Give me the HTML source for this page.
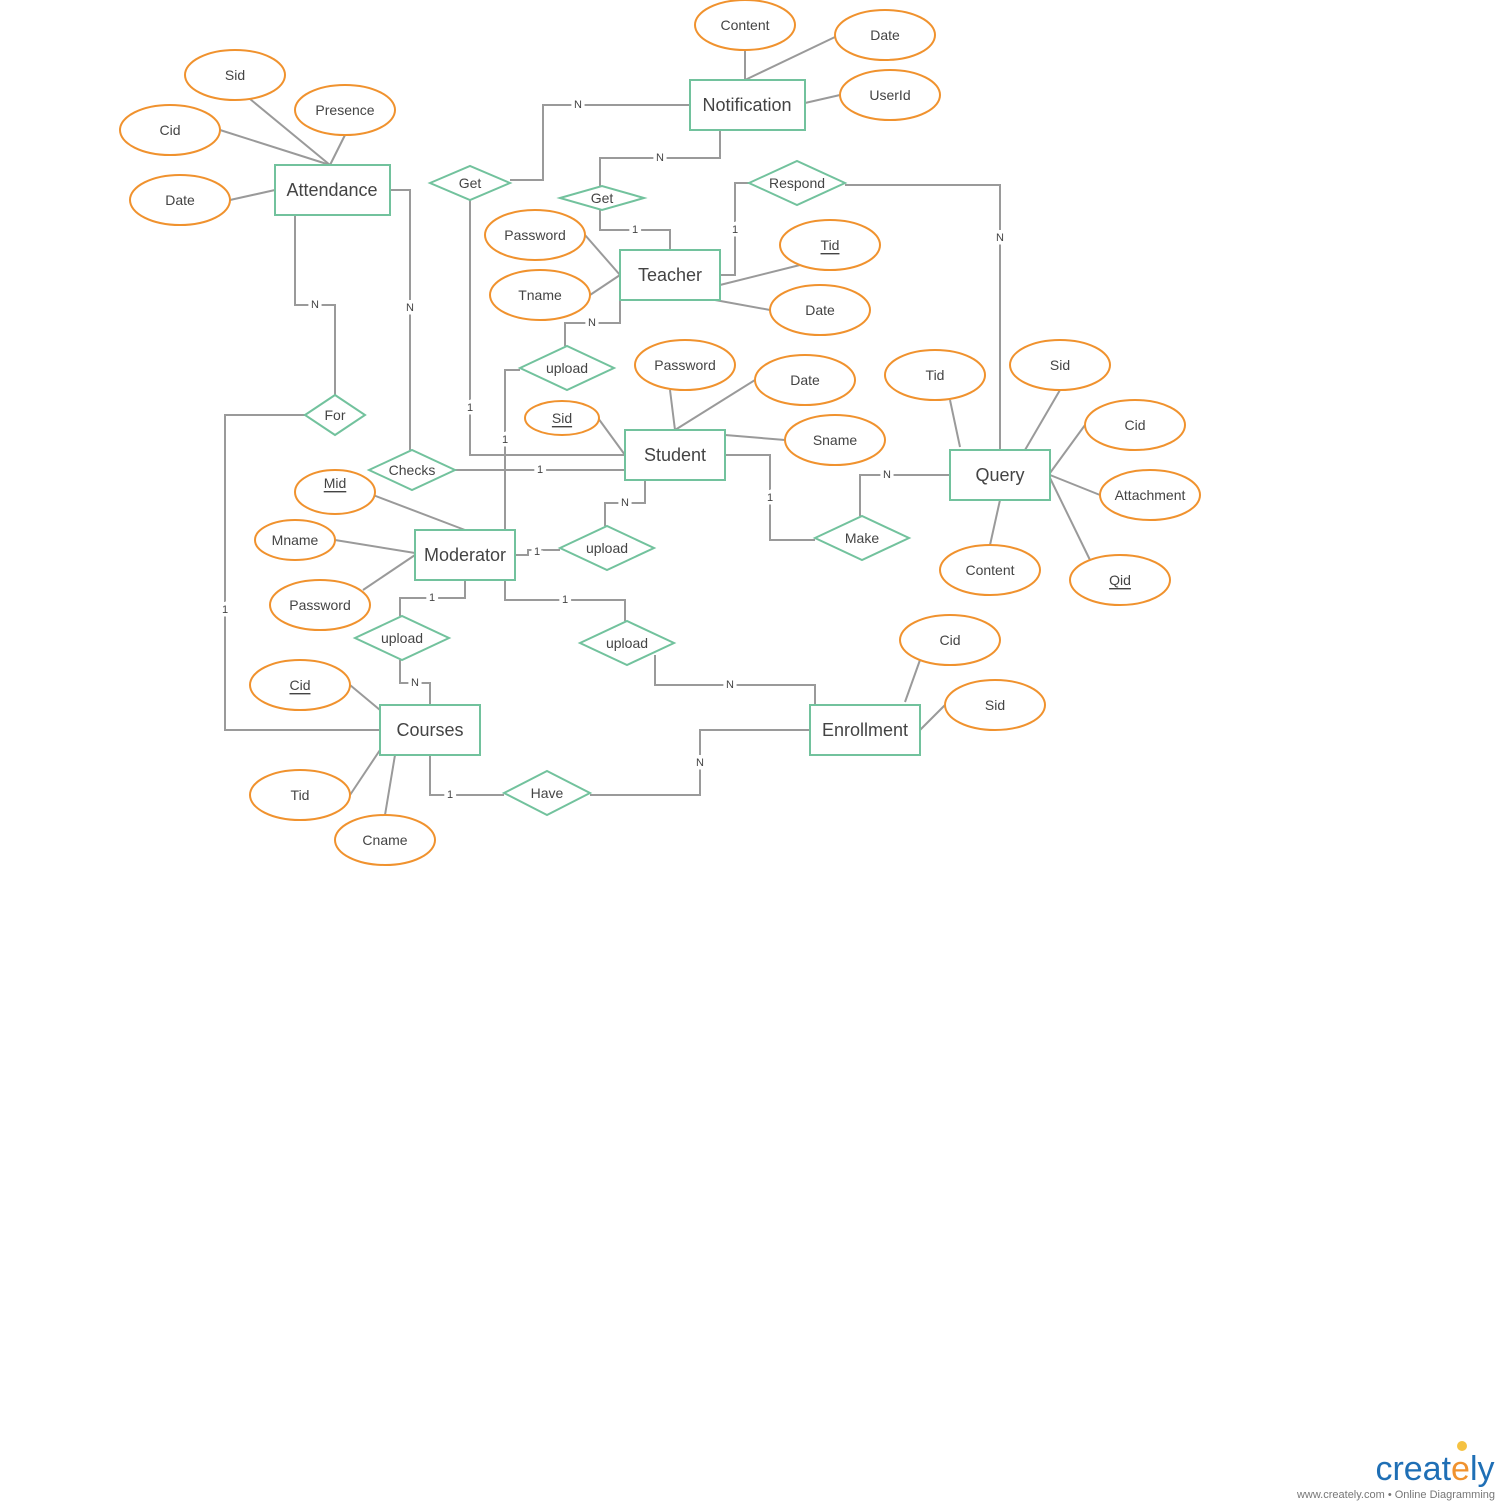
<!DOCTYPE html>
<html><head><meta charset="utf-8"><style>
html,body{margin:0;padding:0;background:#fff;}
svg{display:block;font-family:"Liberation Sans",sans-serif;}
.e{fill:#fff;stroke:#f0922e;stroke-width:2;}
.r{fill:#fff;stroke:#72c29d;stroke-width:2;}
.d{fill:#fff;stroke:#72c29d;stroke-width:2;}
.l{fill:none;stroke:#9a9a9a;stroke-width:2;}
.t{fill:#444;font-size:14px;text-anchor:middle;dominant-baseline:central;}
.tb{fill:#444;font-size:18px;text-anchor:middle;dominant-baseline:central;}
.lb{fill:#444;font-size:11px;text-anchor:middle;dominant-baseline:central;stroke:#fff;stroke-width:7px;paint-order:stroke;}
</style></head><body>
<svg width="1510" height="1510" viewBox="0 0 1510 1510">
<g class="l">
<polyline points="690,105 543,105 543,180 510,180"/>
<polyline points="720,130 720,158 600,158 600,186"/>
<polyline points="600,210 600,230 670,230 670,250"/>
<polyline points="470,200 470,455 625,455"/>
<polyline points="750,183 735,183 735,275 720,275"/>
<polyline points="845,185 1000,185 1000,450"/>
<polyline points="620,300 620,323 565,323 565,346"/>
<polyline points="520,370 505,370 505,530"/>
<polyline points="295,215 295,305 335,305 335,395"/>
<polyline points="305,415 225,415 225,730 380,730"/>
<polyline points="390,190 410,190 410,450"/>
<polyline points="455,470 625,470"/>
<polyline points="645,480 645,503 605,503 605,526"/>
<polyline points="515,555 528,555 528,550 560,550"/>
<polyline points="725,455 770,455 770,540 815,540"/>
<polyline points="860,516 860,475 950,475"/>
<polyline points="465,580 465,598 400,598 400,616"/>
<polyline points="400,660 400,683 430,683 430,705"/>
<polyline points="505,580 505,600 625,600 625,621"/>
<polyline points="655,655 655,685 815,685 815,705"/>
<polyline points="430,755 430,795 504,795"/>
<polyline points="590,795 700,795 700,730 810,730"/>
<line x1="745" y1="50" x2="745" y2="80"/><line x1="835" y1="37" x2="745" y2="80"/><line x1="840" y1="95" x2="805" y2="103"/>
<line x1="250" y1="99" x2="330" y2="165"/><line x1="220" y1="130" x2="330" y2="165"/><line x1="345" y1="135" x2="330" y2="165"/><line x1="230" y1="200" x2="275" y2="190"/>
<line x1="585" y1="235" x2="620" y2="275"/><line x1="590" y1="295" x2="620" y2="275"/><line x1="800" y1="265" x2="720" y2="285"/><line x1="770" y1="310" x2="715" y2="300"/>
<line x1="670" y1="390" x2="675" y2="430"/><line x1="755" y1="380" x2="675" y2="430"/><line x1="598" y1="418" x2="625" y2="455"/><line x1="785" y1="440" x2="725" y2="435"/>
<line x1="950" y1="400" x2="960" y2="447"/><line x1="1060" y1="390" x2="1025" y2="450"/><line x1="1085" y1="425" x2="1050" y2="473"/><line x1="1100" y1="495" x2="1050" y2="475"/><line x1="1000" y1="500" x2="990" y2="545"/><line x1="1090" y1="560" x2="1050" y2="478"/>
<line x1="373" y1="495" x2="465" y2="530"/><line x1="335" y1="540" x2="415" y2="553"/><line x1="363" y1="590" x2="415" y2="555"/>
<line x1="350" y1="685" x2="380" y2="710"/><line x1="350" y1="795" x2="380" y2="750"/><line x1="385" y1="815" x2="395" y2="755"/>
<line x1="920" y1="660" x2="905" y2="702"/><line x1="945" y1="705" x2="920" y2="730"/>
</g>
<g>
<text class="lb" x="578" y="105">N</text><text class="lb" x="660" y="158">N</text><text class="lb" x="635" y="230">1</text>
<text class="lb" x="470" y="408">1</text><text class="lb" x="735" y="230">1</text><text class="lb" x="1000" y="238">N</text>
<text class="lb" x="592" y="323">N</text><text class="lb" x="505" y="440">1</text><text class="lb" x="315" y="305">N</text>
<text class="lb" x="225" y="610">1</text><text class="lb" x="410" y="308">N</text><text class="lb" x="540" y="470">1</text>
<text class="lb" x="625" y="503">N</text><text class="lb" x="537" y="552">1</text><text class="lb" x="770" y="498">1</text>
<text class="lb" x="887" y="475">N</text><text class="lb" x="432" y="598">1</text><text class="lb" x="415" y="683">N</text>
<text class="lb" x="565" y="600">1</text><text class="lb" x="730" y="685">N</text><text class="lb" x="450" y="795">1</text><text class="lb" x="700" y="763">N</text>
</g>
<g>
<rect class="r" x="690" y="80" width="115" height="50"/><text class="tb" x="747" y="105">Notification</text>
<rect class="r" x="275" y="165" width="115" height="50"/><text class="tb" x="332" y="190">Attendance</text>
<rect class="r" x="620" y="250" width="100" height="50"/><text class="tb" x="670" y="275">Teacher</text>
<rect class="r" x="625" y="430" width="100" height="50"/><text class="tb" x="675" y="455">Student</text>
<rect class="r" x="950" y="450" width="100" height="50"/><text class="tb" x="1000" y="475">Query</text>
<rect class="r" x="415" y="530" width="100" height="50"/><text class="tb" x="465" y="555">Moderator</text>
<rect class="r" x="380" y="705" width="100" height="50"/><text class="tb" x="430" y="730">Courses</text>
<rect class="r" x="810" y="705" width="110" height="50"/><text class="tb" x="865" y="730">Enrollment</text>
</g>
<g>
<polygon class="d" points="430,183 470,166 510,183 470,200"/><text class="t" x="470" y="183">Get</text>
<polygon class="d" points="560,198 602,186 644,198 602,210"/><text class="t" x="602" y="198">Get</text>
<polygon class="d" points="749,183 797,161 845,183 797,205"/><text class="t" x="797" y="183">Respond</text>
<polygon class="d" points="520,368 567,346 614,368 567,390"/><text class="t" x="567" y="368">upload</text>
<polygon class="d" points="305,415 335,395 365,415 335,435"/><text class="t" x="335" y="415">For</text>
<polygon class="d" points="369,470 412,450 455,470 412,490"/><text class="t" x="412" y="470">Checks</text>
<polygon class="d" points="815,538 862,516 909,538 862,560"/><text class="t" x="862" y="538">Make</text>
<polygon class="d" points="560,548 607,526 654,548 607,570"/><text class="t" x="607" y="548">upload</text>
<polygon class="d" points="355,638 402,616 449,638 402,660"/><text class="t" x="402" y="638">upload</text>
<polygon class="d" points="580,643 627,621 674,643 627,665"/><text class="t" x="627" y="643">upload</text>
<polygon class="d" points="504,793 547,771 590,793 547,815"/><text class="t" x="547" y="793">Have</text>
</g>
<g>
<ellipse class="e" cx="745" cy="25" rx="50" ry="25"/><text class="t" x="745" y="25">Content</text>
<ellipse class="e" cx="885" cy="35" rx="50" ry="25"/><text class="t" x="885" y="35">Date</text>
<ellipse class="e" cx="890" cy="95" rx="50" ry="25"/><text class="t" x="890" y="95">UserId</text>
<ellipse class="e" cx="235" cy="75" rx="50" ry="25"/><text class="t" x="235" y="75">Sid</text>
<ellipse class="e" cx="345" cy="110" rx="50" ry="25"/><text class="t" x="345" y="110">Presence</text>
<ellipse class="e" cx="170" cy="130" rx="50" ry="25"/><text class="t" x="170" y="130">Cid</text>
<ellipse class="e" cx="180" cy="200" rx="50" ry="25"/><text class="t" x="180" y="200">Date</text>
<ellipse class="e" cx="535" cy="235" rx="50" ry="25"/><text class="t" x="535" y="235">Password</text>
<ellipse class="e" cx="540" cy="295" rx="50" ry="25"/><text class="t" x="540" y="295">Tname</text>
<ellipse class="e" cx="830" cy="245" rx="50" ry="25"/><text class="t" x="830" y="245" text-decoration="underline">Tid</text>
<ellipse class="e" cx="820" cy="310" rx="50" ry="25"/><text class="t" x="820" y="310">Date</text>
<ellipse class="e" cx="685" cy="365" rx="50" ry="25"/><text class="t" x="685" y="365">Password</text>
<ellipse class="e" cx="805" cy="380" rx="50" ry="25"/><text class="t" x="805" y="380">Date</text>
<ellipse class="e" cx="562" cy="418" rx="37" ry="17"/><text class="t" x="562" y="418" text-decoration="underline">Sid</text>
<ellipse class="e" cx="835" cy="440" rx="50" ry="25"/><text class="t" x="835" y="440">Sname</text>
<ellipse class="e" cx="935" cy="375" rx="50" ry="25"/><text class="t" x="935" y="375">Tid</text>
<ellipse class="e" cx="1060" cy="365" rx="50" ry="25"/><text class="t" x="1060" y="365">Sid</text>
<ellipse class="e" cx="1135" cy="425" rx="50" ry="25"/><text class="t" x="1135" y="425">Cid</text>
<ellipse class="e" cx="1150" cy="495" rx="50" ry="25"/><text class="t" x="1150" y="495">Attachment</text>
<ellipse class="e" cx="990" cy="570" rx="50" ry="25"/><text class="t" x="990" y="570">Content</text>
<ellipse class="e" cx="1120" cy="580" rx="50" ry="25"/><text class="t" x="1120" y="580" text-decoration="underline">Qid</text>
<ellipse class="e" cx="335" cy="492" rx="40" ry="22"/><text class="t" x="335" y="483" text-decoration="underline">Mid</text>
<ellipse class="e" cx="295" cy="540" rx="40" ry="20"/><text class="t" x="295" y="540">Mname</text>
<ellipse class="e" cx="320" cy="605" rx="50" ry="25"/><text class="t" x="320" y="605">Password</text>
<ellipse class="e" cx="300" cy="685" rx="50" ry="25"/><text class="t" x="300" y="685" text-decoration="underline">Cid</text>
<ellipse class="e" cx="300" cy="795" rx="50" ry="25"/><text class="t" x="300" y="795">Tid</text>
<ellipse class="e" cx="385" cy="840" rx="50" ry="25"/><text class="t" x="385" y="840">Cname</text>
<ellipse class="e" cx="950" cy="640" rx="50" ry="25"/><text class="t" x="950" y="640">Cid</text>
<ellipse class="e" cx="995" cy="705" rx="50" ry="25"/><text class="t" x="995" y="705">Sid</text>
</g>
<text x="1435" y="1480" font-size="34" fill="#1f6fb5" text-anchor="middle">creat<tspan fill="#f0922e">e</tspan>ly</text>
<circle cx="1462" cy="1446" r="5" fill="#f5c242"/>
<text x="1495" y="1498" font-size="11" fill="#777" text-anchor="end">www.creately.com • Online Diagramming</text>
</svg>
</body></html>
